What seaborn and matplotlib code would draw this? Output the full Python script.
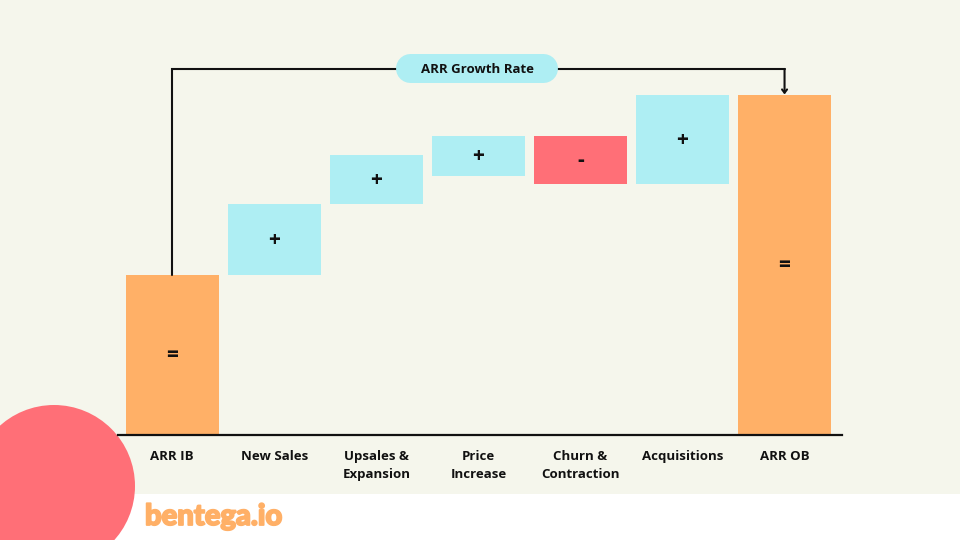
import numpy as np
import pandas as pd
import seaborn as sns
import matplotlib.pyplot as plt
import matplotlib.patheffects as pe
from matplotlib.patches import Circle, Rectangle

# values (baseline = 0)
categories = ["ARR IB", "New Sales", "Upsales &\nExpansion", "Price\nIncrease",
              "Churn &\nContraction", "Acquisitions", "ARR OB"]
bottoms = [0, 160, 231, 259, 251, 251, 0]
heights = [160, 71, 49, 40, 48, 89, 340]
kinds = ["total", "up", "up", "up", "down", "up", "total"]
signs = ["=", "+", "+", "+", "-", "+", "="]

BG = "#F5F6EC"
ORANGE = "#FFB067"
BLUE = "#AEEEF3"
RED = "#FF6F77"
INK = "#111111"
FONT = "Open Sans"
kind_colors = {"total": ORANGE, "up": BLUE, "down": RED}

df = pd.DataFrame({"category": categories, "height": heights})

sns.set_theme(style="white")
plt.rcParams["font.family"] = [FONT, "DejaVu Sans"]

fig = plt.figure(figsize=(9.6, 5.4), dpi=100, facecolor=BG)

# backdrop in pixel coordinates: white footer, circle and logo
bg = fig.add_axes([0, 0, 1, 1], zorder=0)
bg.set_xlim(0, 960)
bg.set_ylim(540, 0)
bg.axis("off")
bg.add_patch(Rectangle((0, 494), 960, 46, fc="white", ec="none"))
bg.add_patch(Circle((54, 486), 81, fc=RED, ec="none"))
bg.text(145, 525, "bentega.io", color=ORANGE, fontsize=21, family="Lato",
        weight="black", ha="left", va="baseline",
        path_effects=[pe.withStroke(linewidth=1.3, foreground=ORANGE)])

# chart axes: left 118px, right 842px, baseline at 434.5px
ax = fig.add_axes([118 / 960, (540 - 434.5) / 540, 724 / 960, 394.5 / 540], zorder=1)
ax.patch.set_alpha(0)
sns.barplot(data=df, x="category", y="height", hue="category", dodge=False, legend=False,
            palette=[kind_colors[k] for k in kinds], width=0.911, saturation=1,
            linewidth=0, ax=ax)
# lift the floating bars (seaborn draws each hue level as its own container)
for cont, b in zip(ax.containers, bottoms):
    for bar in cont:
        bar.set_y(b)
ax.set_xlim(-0.5316, 6.563)
ax.set_ylim(0, 394.5)
ax.set_xlabel("")
ax.set_ylabel("")
ax.set_yticks([])
ax.tick_params(axis="x", length=0, pad=11.5, labelsize=9.5, labelcolor=INK)
for lab in ax.get_xticklabels():
    lab.set_fontweight("bold")
    lab.set_linespacing(1.5)
for side in ["top", "left", "right"]:
    ax.spines[side].set_visible(False)
ax.spines["bottom"].set_color(INK)
ax.spines["bottom"].set_linewidth(1.6)

# signs in the middle of each bar
for i, s in enumerate(signs):
    ax.annotate(s, (i, bottoms[i] + heights[i] / 2), xytext=(0, -1), textcoords="offset points",
                ha="center", va="center", fontsize=15, fontweight="bold", color=INK)

# connector from first bar to last bar
top_y = 365.5
ax.plot([0, 0, 6], [heights[0], top_y, top_y], color=INK, lw=1.5,
        solid_joinstyle="miter", zorder=3)
ax.annotate("", xy=(6, heights[-1]), xytext=(6, top_y),
            arrowprops=dict(arrowstyle="->,head_length=0.2,head_width=0.15",
                            color=INK, lw=1.5, shrinkA=0, shrinkB=0), zorder=3)

# growth rate pill sits on top of the connector
over = fig.add_axes([0, 0, 1, 1], zorder=2)
over.set_xlim(0, 960)
over.set_ylim(540, 0)
over.axis("off")
over.plot([409.5, 542.5], [67.5, 67.5], color=BLUE, lw=29 * 0.72, solid_capstyle="round")
over.text(477.5, 69.5, "ARR Growth Rate", ha="center", va="center", fontsize=9.5,
          fontweight="bold", color=INK)

fig.savefig("out.png", dpi=100, facecolor=BG)
